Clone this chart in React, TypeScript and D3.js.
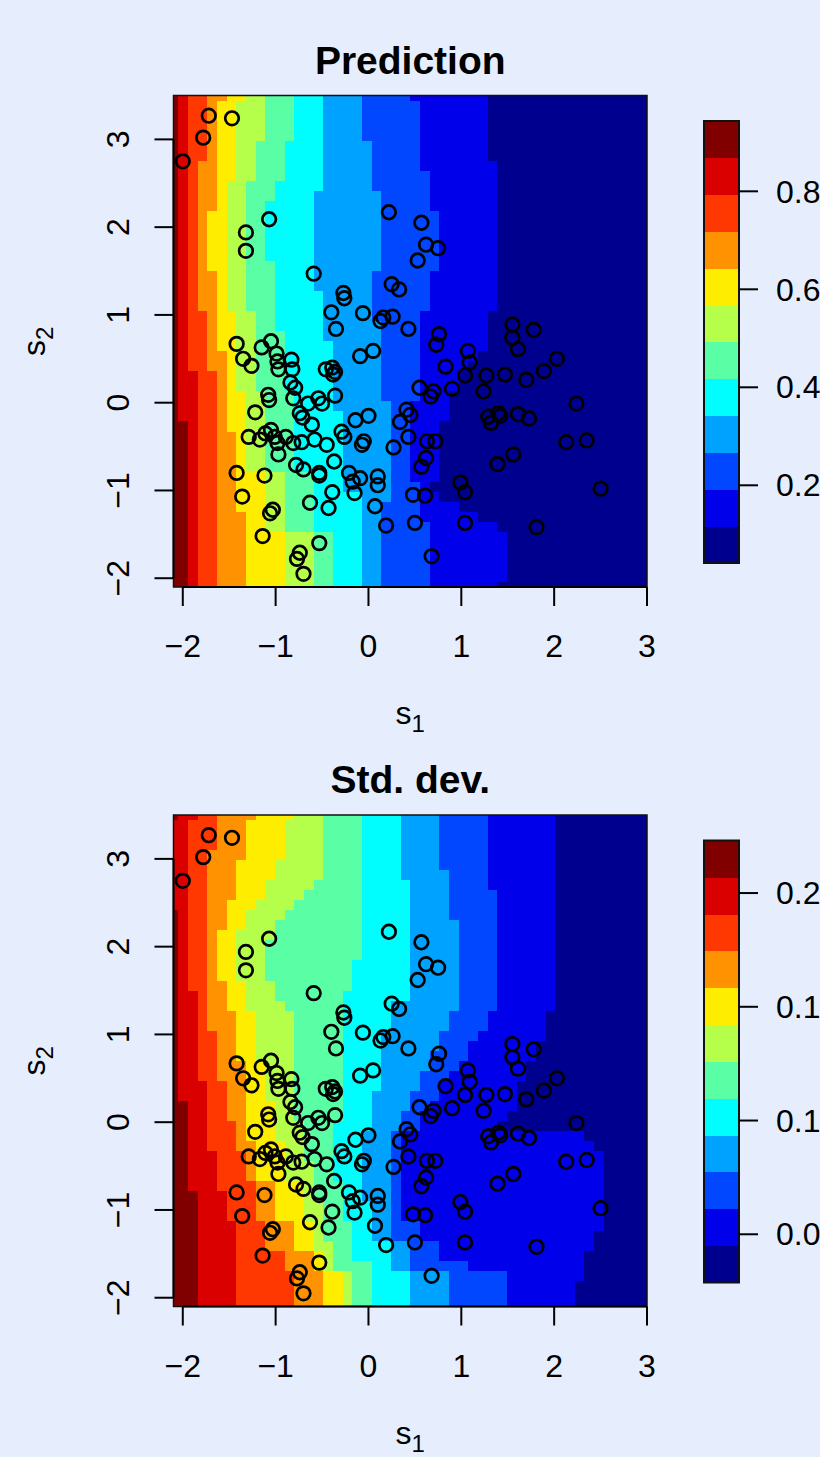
import React, { useRef, useEffect } from 'react';
import * as d3 from 'd3';

// prediction grid: 50 x 50 cells over these ranges
const s1Range = [-2.1, 3.0];
const s2Range = [-2.1, 3.5];
const gridN = 50;

// observed locations (s1, s2)
const obsS1 = [
  -1.72, -1.47, -1.78, -2.0, 0.22, -1.07, -1.32, -1.32, -0.59, 0.25, 0.33, -0.27, -0.26, -0.4, -0.06, 0.16,
  0.26, 0.13, -0.35, 0.43, -1.42, -1.05, 0.57, 0.62, 0.75, 0.53, 0.76, 1.55, 1.78, 1.55, -1.15, -1.35,
  -1.26, -0.99, -0.98, -0.97, -0.83, -0.82, -0.84, -0.79, -0.81, -0.46, -0.39, -0.36, -0.38, -0.09, 0.05, -1.08,
  -1.07, -1.22, -0.65, -0.54, -0.5, -0.36, -0.74, -0.71, -0.61, -0.14, 0.0, -0.29, -0.26, -0.05, -0.07, 0.27,
  -1.29, -1.17, -1.11, -1.05, -1.01, -0.98, -0.97, -0.89, -0.81, -0.72, -0.58, -0.45, -0.37, -0.78, -0.7, -0.53,
  -0.53, -0.21, -0.17, -0.15, -0.09, 0.1, 0.1, -1.42, -1.12, -1.36, -0.39, -0.63, -0.43, 0.07, -1.03, -1.06,
  0.19, -1.14, -0.53, -0.74, -0.77, -0.7, 0.73, 1.61, 1.07, 1.09, 1.04, 0.83, 1.27, 1.47, 1.7, 1.89,
  2.03, 1.24, 0.55, 0.7, 0.67, 0.9, 2.24, 0.41, 0.45, 0.34, 1.29, 1.4, 1.42, 1.32, 1.61, 1.73,
  0.43, 0.63, 0.72, 0.62, 0.57, 2.13, 2.35, 1.56, 1.39, 0.99, 1.04, 0.48, 0.61, 2.5, 0.5, 1.04,
  1.81, 0.68
];
const obsS2 = [
  3.27, 3.24, 3.02, 2.75, 2.17, 2.09, 1.94, 1.73, 1.47, 1.35, 1.29, 1.25, 1.19, 1.03, 1.02, 0.97,
  0.98, 0.93, 0.84, 0.84, 0.67, 0.7, 2.05, 1.8, 1.76, 1.62, 0.78, 0.89, 0.83, 0.74, 0.63, 0.5,
  0.42, 0.56, 0.47, 0.38, 0.49, 0.38, 0.23, 0.17, 0.05, 0.38, 0.4, 0.35, 0.32, 0.53, 0.59, 0.09,
  0.03, -0.11, -0.01, 0.05, -0.01, 0.08, -0.12, -0.17, -0.25, -0.2, -0.15, -0.33, -0.39, -0.44, -0.48, -0.51,
  -0.39, -0.42, -0.35, -0.31, -0.39, -0.46, -0.59, -0.39, -0.46, -0.45, -0.42, -0.48, -0.67, -0.71, -0.76, -0.8,
  -0.83, -0.8, -0.9, -1.03, -0.86, -0.84, -0.94, -0.8, -0.83, -1.07, -1.02, -1.14, -1.2, -1.18, -1.22, -1.26,
  -1.4, -1.52, -1.6, -1.71, -1.78, -1.95, 0.66, 0.61, 0.59, 0.46, 0.31, 0.41, 0.31, 0.32, 0.26, 0.36,
  0.5, 0.13, 0.17, 0.13, 0.07, 0.16, -0.01, -0.08, -0.14, -0.22, -0.16, -0.12, -0.15, -0.23, -0.13, -0.18,
  -0.39, -0.44, -0.44, -0.63, -0.73, -0.45, -0.43, -0.59, -0.7, -0.91, -1.02, -1.05, -1.06, -0.98, -1.37, -1.37,
  -1.42, -1.75
];

const xTicks = [-2, -1, 0, 1, 2, 3];
const yTicks = [-2, -1, 0, 1, 2, 3];

// 12 colour classes, low -> high
const palette = ['#00008F', '#0000EA', '#0047FF', '#00A2FF', '#00FEFF', '#5AFFA5',
  '#B5FF4A', '#FFED00', '#FF9200', '#FF3700', '#DB0000', '#800000'];

const predZlim = [0.0414, 0.9435];
const predTicks = [0.2, 0.4, 0.6, 0.8];
const predTickLabels = ['0.2', '0.4', '0.6', '0.8'];
const sdZlim = [0.0288, 0.2231];
const sdTicks = [0.05, 0.1, 0.15, 0.2];
// the labels run off the right edge of the page, only this much shows
const sdTickLabels = ['0.0', '0.1', '0.1', '0.2'];

// for class 10 down to 0: [first row, last row, column where the class starts]
// rows counted from the top of the grid, columns from the left
const predEdges = [
  [[0, 32, 1], [33, 49, 2]],
  [[0, 27, 2], [28, 49, 3]],
  [[0, 6, 4], [7, 21, 3], [22, 27, 4], [28, 49, 5]],
  [[0, 0, 6], [1, 11, 5], [12, 17, 4], [18, 25, 5], [26, 33, 6], [34, 41, 7], [42, 49, 8]],
  [[0, 0, 8], [1, 8, 7], [9, 21, 6], [22, 29, 7], [30, 37, 8], [38, 43, 10], [44, 49, 12]],
  [[0, 4, 10], [5, 8, 9], [9, 21, 8], [22, 29, 9], [30, 37, 10], [38, 43, 12], [44, 49, 15]],
  [[0, 4, 13], [5, 8, 12], [9, 10, 11], [11, 16, 10], [17, 23, 11], [24, 29, 12], [30, 37, 13], [38, 43, 15], [44, 49, 17]],
  [[0, 9, 16], [10, 19, 15], [20, 24, 16], [25, 31, 17], [32, 39, 18], [40, 49, 20]],
  [[0, 4, 20], [5, 9, 21], [10, 17, 22], [18, 22, 21], [23, 30, 22], [31, 40, 23], [41, 49, 22]],
  [[0, 0, 25], [1, 7, 26], [8, 11, 27], [12, 17, 28], [18, 21, 27], [22, 30, 26], [31, 38, 25], [39, 42, 26], [43, 49, 27]],
  [[0, 6, 33], [7, 21, 34], [22, 25, 33], [26, 26, 32], [27, 27, 31], [28, 29, 30], [30, 32, 29], [33, 38, 28],
    [39, 39, 27], [40, 40, 28], [41, 41, 30], [42, 42, 32], [43, 43, 34], [44, 48, 35], [49, 49, 34]]
];

const sdEdges = [
  [[0, 0, 1], [1, 9, 0], [10, 28, 1], [29, 37, 2], [38, 49, 3]],
  [[0, 0, 3], [1, 17, 2], [18, 26, 3], [27, 33, 4], [34, 37, 5], [38, 40, 6], [41, 49, 7]],
  [[0, 3, 5], [4, 21, 4], [22, 26, 5], [27, 30, 6], [31, 33, 7], [34, 36, 8], [37, 40, 9], [41, 43, 10], [44, 45, 12], [46, 49, 13]],
  [[0, 0, 9], [1, 4, 8], [5, 8, 7], [9, 11, 6], [12, 16, 5], [17, 19, 6], [20, 24, 7], [25, 32, 8], [33, 36, 9],
    [37, 40, 11], [41, 43, 13], [44, 45, 15], [46, 49, 16]],
  [[0, 0, 13], [1, 4, 12], [5, 6, 11], [7, 8, 10], [9, 9, 9], [10, 11, 8], [12, 16, 7], [17, 19, 8], [20, 24, 9],
    [25, 28, 10], [29, 32, 11], [33, 36, 12], [37, 40, 14], [41, 43, 15], [44, 45, 16], [46, 49, 18]],
  [[0, 6, 16], [7, 7, 15], [8, 8, 14], [9, 9, 13], [10, 10, 12], [11, 12, 11], [13, 16, 10], [17, 18, 11], [19, 19, 12],
    [20, 30, 13], [31, 34, 14], [35, 38, 15], [39, 42, 16], [43, 45, 17], [46, 49, 19]],
  [[0, 14, 20], [15, 17, 19], [18, 30, 18], [31, 36, 17], [37, 40, 18], [41, 44, 19], [45, 49, 21]],
  [[0, 6, 24], [7, 18, 25], [19, 21, 23], [22, 27, 22], [28, 31, 21], [32, 38, 20], [39, 42, 21], [43, 45, 23], [46, 49, 25]],
  [[0, 5, 28], [6, 10, 29], [11, 19, 30], [20, 21, 29], [22, 23, 28], [24, 25, 27], [26, 27, 26], [28, 29, 25],
    [30, 31, 24], [32, 42, 23], [43, 45, 25], [46, 49, 29]],
  [[0, 7, 33], [8, 19, 34], [20, 21, 33], [22, 22, 32], [23, 24, 31], [25, 25, 30], [26, 26, 29], [27, 28, 28],
    [29, 29, 27], [30, 31, 26], [32, 40, 24], [41, 42, 26], [43, 44, 28], [45, 45, 31], [46, 49, 35]],
  [[0, 19, 40], [20, 22, 39], [23, 24, 38], [25, 26, 37], [27, 29, 36], [30, 30, 35], [31, 31, 34], [32, 32, 43],
    [33, 33, 44], [34, 41, 45], [42, 43, 44], [44, 46, 43], [47, 49, 42]]
];

const W = 820;
const H = 1457;
const font = '"Liberation Sans", Arial, Helvetica, sans-serif';

// class of every cell, rows from the top
const buildLevels = (edges) => d3.range(gridN).map(r => {
  const starts = edges.map(blocks => {
    const b = blocks.find(bl => r >= bl[0] && r <= bl[1]);
    return b ? b[2] : 0;
  });
  return d3.range(gridN).map(c => {
    let lvl = 11;
    starts.forEach((s, i) => { if (c >= s) lvl = 10 - i; });
    return lvl;
  });
});

const App = () => {
  const ref = useRef(null);

  useEffect(() => {
    const svg = d3.select(ref.current);
    svg.selectAll('*').remove();

    svg.append('rect').attr('width', W).attr('height', H).attr('fill', '#E6EEFD');

    const left = 173.5, right = 647, plotH = 491.5;
    const dx = (s1Range[1] - s1Range[0]) / (gridN - 1);
    const dy = (s2Range[1] - s2Range[0]) / (gridN - 1);
    const x = d3.scaleLinear().domain(s1Range).range([left, right]);

    const panels = [
      { top: 95.5, title: 'Prediction', edges: predEdges, zlim: predZlim, zticks: predTicks, zlabels: predTickLabels },
      { top: 815, title: 'Std. dev.', edges: sdEdges, zlim: sdZlim, zticks: sdTicks, zlabels: sdTickLabels }
    ];

    panels.forEach((p, pi) => {
      const y = d3.scaleLinear().domain(s2Range).range([p.top + plotH, p.top]);
      const g = svg.append('g');

      const clipId = 'clip' + pi;
      svg.append('clipPath').attr('id', clipId)
        .append('rect')
        .attr('x', left).attr('y', p.top)
        .attr('width', right - left).attr('height', plotH);

      // raster, one rect per run of equal class in a row
      const levels = buildLevels(p.edges);
      const runs = [];
      levels.forEach((row, r) => {
        let c0 = 0;
        for (let c = 1; c <= gridN; c++) {
          if (c === gridN || row[c] !== row[c0]) {
            runs.push({ r, c0, c1: c - 1, lvl: row[c0] });
            c0 = c;
          }
        }
      });
      const s2Of = r => s2Range[1] - r * dy;
      const s1Of = c => s1Range[0] + c * dx;
      g.append('g').attr('clip-path', `url(#${clipId})`)
        .selectAll('rect').data(runs).enter().append('rect')
        .attr('x', d => x(s1Of(d.c0) - dx / 2))
        .attr('width', d => x(s1Of(d.c1) + dx / 2) - x(s1Of(d.c0) - dx / 2) + 0.4)
        .attr('y', d => y(s2Of(d.r) + dy / 2))
        .attr('height', d => y(s2Of(d.r) - dy / 2) - y(s2Of(d.r) + dy / 2) + 0.4)
        .attr('fill', d => palette[d.lvl])
        .attr('shape-rendering', 'crispEdges');

      // box
      g.append('rect')
        .attr('x', left).attr('y', p.top)
        .attr('width', right - left).attr('height', plotH)
        .attr('fill', 'none').attr('stroke', '#111').attr('stroke-width', 1.5);

      // points
      g.append('g').selectAll('circle').data(obsS1).enter().append('circle')
        .attr('cx', d => x(d))
        .attr('cy', (d, i) => y(obsS2[i]))
        .attr('r', 6.8)
        .attr('fill', 'none')
        .attr('stroke', '#000')
        .attr('stroke-width', 2.7);

      // x axis
      const bottom = p.top + plotH;
      g.append('line')
        .attr('x1', x(xTicks[0])).attr('x2', x(xTicks[xTicks.length - 1]))
        .attr('y1', bottom).attr('y2', bottom)
        .attr('stroke', '#000').attr('stroke-width', 2);
      g.selectAll('.xt').data(xTicks).enter().append('line')
        .attr('x1', d => x(d)).attr('x2', d => x(d))
        .attr('y1', bottom).attr('y2', bottom + 19)
        .attr('stroke', '#000').attr('stroke-width', 2);
      g.selectAll('.xl').data(xTicks).enter().append('text')
        .attr('x', d => x(d)).attr('y', bottom + 59)
        .attr('dy', '0.35em')
        .attr('text-anchor', 'middle')
        .style('font-family', font).style('font-size', '32px')
        .text(d => d3.format('d')(d));

      // y axis
      g.append('line')
        .attr('x1', left).attr('x2', left)
        .attr('y1', y(yTicks[0])).attr('y2', y(yTicks[yTicks.length - 1]))
        .attr('stroke', '#000').attr('stroke-width', 2);
      g.selectAll('.yt').data(yTicks).enter().append('line')
        .attr('x1', left - 19).attr('x2', left)
        .attr('y1', d => y(d)).attr('y2', d => y(d))
        .attr('stroke', '#000').attr('stroke-width', 2);
      g.selectAll('.yl').data(yTicks).enter().append('text')
        .attr('transform', d => `translate(117.5,${y(d)}) rotate(-90)`)
        .attr('dy', '0.35em')
        .attr('text-anchor', 'middle')
        .style('font-family', font).style('font-size', '32px')
        .text(d => d3.format('d')(d));

      // axis titles
      const xl = g.append('text')
        .attr('x', (left + right) / 2).attr('y', bottom + 137)
        .attr('text-anchor', 'middle')
        .style('font-family', font).style('font-size', '32px');
      xl.append('tspan').text('s');
      xl.append('tspan').attr('dy', 8).style('font-size', '24px').text('1');

      const yl = g.append('text')
        .attr('transform', `translate(45,${p.top + plotH / 2}) rotate(-90)`)
        .attr('text-anchor', 'middle')
        .style('font-family', font).style('font-size', '32px');
      yl.append('tspan').text('s');
      yl.append('tspan').attr('dy', 8).style('font-size', '24px').text('2');

      // title
      g.append('text')
        .attr('x', (left + right) / 2).attr('y', p.top - 22)
        .attr('text-anchor', 'middle')
        .style('font-family', font).style('font-size', '39px').style('font-weight', 'bold')
        .text(p.title);

      // colour bar
      const bx0 = 704, bx1 = 739;
      const z = d3.scaleLinear().domain(p.zlim).range([p.top + 467.5, p.top + 25.5]);
      const breaks = d3.range(palette.length + 1).map(i => p.zlim[0] + i * (p.zlim[1] - p.zlim[0]) / palette.length);
      g.selectAll('.band').data(palette).enter().append('rect')
        .attr('x', bx0).attr('width', bx1 - bx0)
        .attr('y', (d, i) => z(breaks[i + 1]))
        .attr('height', (d, i) => z(breaks[i]) - z(breaks[i + 1]) + 0.4)
        .attr('fill', d => d)
        .attr('shape-rendering', 'crispEdges');
      g.append('rect')
        .attr('x', bx0).attr('y', z(p.zlim[1]))
        .attr('width', bx1 - bx0).attr('height', z(p.zlim[0]) - z(p.zlim[1]))
        .attr('fill', 'none').attr('stroke', '#111').attr('stroke-width', 2);
      g.selectAll('.zt').data(p.zticks).enter().append('line')
        .attr('x1', bx1).attr('x2', bx1 + 19)
        .attr('y1', d => z(d)).attr('y2', d => z(d))
        .attr('stroke', '#000').attr('stroke-width', 2);
      g.selectAll('.zl').data(p.zticks).enter().append('text')
        .attr('x', 776).attr('y', d => z(d))
        .attr('dy', '0.35em')
        .style('font-family', font).style('font-size', '32px')
        .text((d, i) => p.zlabels[i]);
    });
  }, []);

  return (
    <svg ref={ref} width={W} height={H}
      style={{ position: 'absolute', left: 0, top: 0, display: 'block' }} />
  );
};

export default App;
